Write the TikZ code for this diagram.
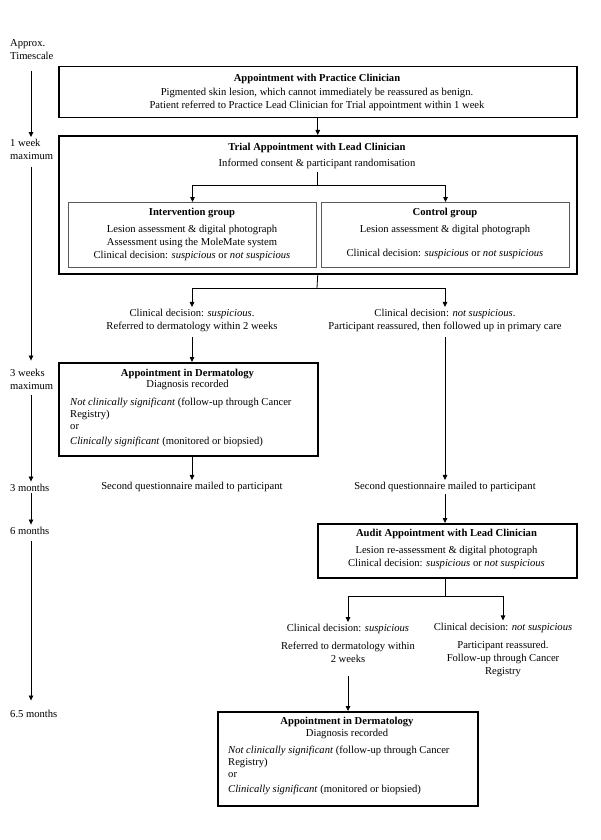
\documentclass[tikz,border=0pt]{standalone}
\usepackage{fontspec}
\setmainfont{Liberation Serif}
\usetikzlibrary{arrows.meta}
\begin{document}
\begin{tikzpicture}[x=1pt,y=-1pt,
  every node/.style={font=\fontsize{10.6}{13}\selectfont, inner sep=2pt},
  bigbox/.style={draw, line width=1.5pt, anchor=north west, inner sep=0pt},
  grpbox/.style={draw=black!65, line width=1pt, anchor=north west, inner sep=0pt},
  ttl/.style={font=\fontsize{10.6}{13}\selectfont\bfseries},
  txt/.style={align=center},
  ltxt/.style={align=left, anchor=west},
  body/.style={align=left, anchor=west, font=\fontsize{10.6}{12}\selectfont},
  arr/.style={line width=0.8pt, -{Triangle[length=5pt,width=4.5pt]}},
  ln/.style={line width=0.8pt}
]
\useasboundingbox (0,0) rectangle (600,840);
\coordinate (tl) at (31,0);

% timeline
\node[ltxt] (t0) at (8,50) {Approx.\\Timescale};
\node[ltxt] (t1) at (8,149.5) {1 week\\maximum};
\node[ltxt] (t2) at (8,379) {3 weeks\\maximum};
\node[ltxt] (t3) at (8,487.5) {3 months};
\node[ltxt] (t4) at (8,530.5) {6 months};
\node[ltxt] (t5) at (8,713.5) {6.5 months};
\draw[arr, shorten <=9pt] (t0.south -| tl) -- (t1.north -| tl);
\draw[arr, shorten <=5pt] (t1.south -| tl) -- ([yshift=6pt]t2.north -| tl);
\draw[arr, shorten <=4pt] (t2.south -| tl) -- (t3.north -| tl);
\draw[arr] (t3.south -| tl) -- (t4.north -| tl);
\draw[arr, shorten <=5pt] (t4.south -| tl) -- ([yshift=7pt]t5.north -| tl);

% box 1
\node[bigbox, minimum width=518pt, minimum height=51pt] (box1) at (58,66) {};
\node[ttl] (box1t) at (317,78.5) {Appointment with Practice Clinician};
\node[txt] (box1b) at (317,99.5) {Pigmented skin lesion, which cannot immediately be reassured as benign.\\Patient referred to Practice Lead Clinician for Trial appointment within 1 week};

% box 2
\node[bigbox, minimum width=518pt, minimum height=138pt] (box2) at (58,135) {};
\draw[arr] (box1.south) -- (box2.north);
\node[ttl] (box2t) at (317,147.5) {Trial Appointment with Lead Clinician};
\node (cons) at (317,163.5) {Informed consent \& participant randomisation};
\coordinate (sp1) at (317,185);
\draw[ln, shorten <=1pt] (cons.south) -- (sp1);
\node[grpbox, minimum width=248pt, minimum height=65pt] (ibox) at (68,202) {};
\node[grpbox, minimum width=248pt, minimum height=65pt] (cbox) at (321,202) {};
\draw[arr] (sp1) -| (ibox.north);
\draw[arr] (sp1) -| (cbox.north);
\node[ttl] (ibt) at (192,212.5) {Intervention group};
\node[txt] (ibb) at (192,242.5) {Lesion assessment \& digital photograph\\Assessment using the MoleMate system\\Clinical decision: \textit{suspicious} or \textit{not suspicious}};
\node[ttl] (cbt) at (445,212.5) {Control group};
\node[txt] (cbb) at (445,242) {Lesion assessment \& digital photograph\\[11pt]Clinical decision: \textit{suspicious} or \textit{not suspicious}};

% branches after randomisation
\coordinate (sp2) at (317,288);
\draw[ln] (box2.south) -- (sp2);
\node[txt, inner sep=2pt] (s1) at (192,320.5) {Clinical decision: \textit{suspicious}.\\Referred to dermatology within 2 weeks};
\node[txt, inner sep=2pt] (n1) at (445,320.5) {Clinical decision: \textit{not suspicious}.\\Participant reassured, then followed up in primary care};
\draw[arr] (sp2) -| (s1.north);
\draw[arr] (sp2) -| (n1.north);

% dermatology 1
\node[bigbox, minimum width=259pt, minimum height=93pt] (derm1) at (58,362) {};
\draw[arr, shorten <=3pt] (s1.south) -- (s1.south |- derm1.north);
\node[ttl] (d1t) at (187.5,373.5) {Appointment in Dermatology};
\node (d1d) at (187.5,385) {Diagnosis recorded};
\node[body] (d1b) at (68,422.5) {\textit{Not clinically significant} (follow-up through Cancer\\Registry)\\or\\[3pt]\textit{Clinically significant} (monitored or biopsied)};

\node (q1) at (192,487) {Second questionnaire mailed to participant};
\draw[arr] (q1.north |- derm1.south) -- (q1.north);
\node (q2) at (445,487) {Second questionnaire mailed to participant};
\draw[arr, shorten <=3pt] (n1.south) -- (q2.north);

% audit
\node[bigbox, minimum width=259pt, minimum height=54pt] (audit) at (317,523) {};
\draw[arr] (q2.south) -- (q2.south |- audit.north);
\node[ttl] (at) at (446.5,534) {Audit Appointment with Lead Clinician};
\node[txt] (ab) at (446.5,557.5) {Lesion re-assessment \& digital photograph\\Clinical decision: \textit{suspicious} or \textit{not suspicious}};

\coordinate (sp3) at (445,596);
\draw[ln] (sp3 |- audit.south) -- (sp3);
\node[txt] (s2) at (348,643.5) {Clinical decision: \textit{suspicious}\\[5pt]Referred to dermatology within\\2 weeks};
\node[txt] (n2) at (503,649.5) {Clinical decision: \textit{not suspicious}\\[5pt]Participant reassured.\\Follow-up through Cancer\\Registry};
\draw[arr] (sp3) -| (s2.north);
\draw[arr] (sp3) -| (n2.north);

% dermatology 2
\node[bigbox, minimum width=260pt, minimum height=94pt] (derm2) at (217,711) {};
\draw[arr, shorten <=11pt] (s2.south) -- (s2.south |- derm2.north);
\node[ttl] (d2t) at (347,721.5) {Appointment in Dermatology};
\node (d2d) at (347,733.5) {Diagnosis recorded};
\node[body] (d2b) at (226,770) {\textit{Not clinically significant} (follow-up through Cancer\\Registry)\\or\\[3pt]\textit{Clinically significant} (monitored or biopsied)};
\end{tikzpicture}
\end{document}
